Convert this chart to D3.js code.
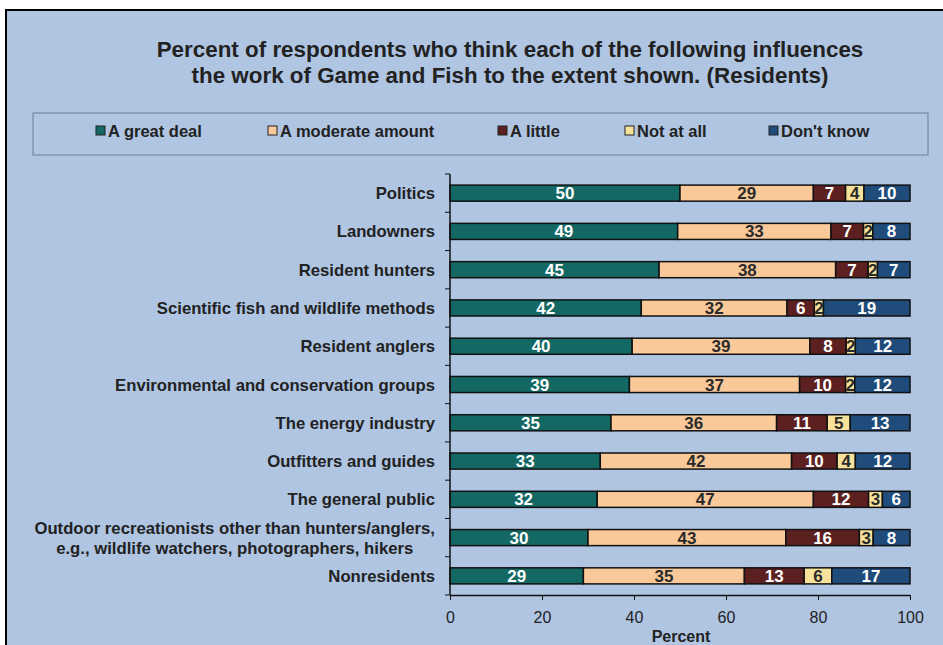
<!DOCTYPE html>
<html>
<head>
<meta charset="utf-8">
<script src="https://cdn.jsdelivr.net/npm/d3@7"></script>
<style>
body { margin: 0; background: #fff; }
svg text { font-family: Arial, "Liberation Sans", sans-serif; }
</style>
</head>
<body>
<div id="chart"></div>
<script>
var categories = [
    "Politics", "Landowners", "Resident hunters",
    "Scientific fish and wildlife methods", "Resident anglers",
    "Environmental and conservation groups", "The energy industry",
    "Outfitters and guides", "The general public",
    "Outdoor recreationists other than hunters/anglers,|e.g., wildlife watchers, photographers, hikers",
    "Nonresidents"
]
var seriesNames = ["A great deal", "A moderate amount", "A little", "Not at all", "Don't know"]
var greatDeal = [50, 49, 45, 42, 40, 39, 35, 33, 32, 30, 29]
var moderate = [29, 33, 38, 32, 39, 37, 36, 42, 47, 43, 35]
var little = [7, 7, 7, 6, 8, 10, 11, 10, 12, 16, 13]
var notAtAll = [4, 2, 2, 2, 2, 2, 5, 4, 3, 3, 6]
var dontKnow = [10, 8, 7, 19, 12, 12, 13, 12, 6, 8, 17]
var xTicks = [0, 20, 40, 60, 80, 100]

var colors = ["#146864", "#f9c99a", "#5c2021", "#f7e29b", "#204c7b"]
var labelColors = ["#fff", "#2a2a2a", "#fff", "#2a2a2a", "#fff"]

var width = 943, height = 645
var svg = d3.select("#chart").append("svg")
    .attr("width", width).attr("height", height)

// background panel
svg.append("rect")
    .attr("x", 6).attr("y", 10).attr("width", width).attr("height", height)
    .attr("fill", "#afc5e2").attr("stroke", "#000").attr("stroke-width", 2)

svg.append("text").attr("x", 510).attr("y", 57).attr("text-anchor", "middle")
    .attr("font-size", 22.4).attr("font-weight", "bold").attr("fill", "#222")
    .text("Percent of respondents who think each of the following influences")
svg.append("text").attr("x", 510).attr("y", 83).attr("text-anchor", "middle")
    .attr("font-size", 22.4).attr("font-weight", "bold").attr("fill", "#222")
    .text("the work of Game and Fish to the extent shown. (Residents)")

// legend
svg.append("rect").attr("x", 33).attr("y", 113).attr("width", 895).attr("height", 42)
    .attr("fill", "none").attr("stroke", "#6a7f99").attr("stroke-width", 1)
var legendX = [96, 268, 498, 625, 769]
var lg = svg.append("g").selectAll("g").data(seriesNames).join("g")
    .attr("transform", (d, i) => "translate(" + legendX[i] + ",131)")
lg.append("rect").attr("x", 0).attr("y", -5).attr("width", 9).attr("height", 9)
    .attr("fill", (d, i) => colors[i]).attr("stroke", "#222").attr("stroke-width", 1)
lg.append("text").attr("x", 12).attr("y", 5.5).attr("font-size", 16.5)
    .attr("font-weight", "bold").attr("fill", "#222").text(d => d)

// scales
var x = d3.scaleLinear().domain([0, 100]).range([450, 910])
var y = d3.scaleBand().domain(categories).range([174, 595]).paddingInner(0.58).paddingOuter(0.29)

var rows = categories.map((c, i) => {
    var vals = [greatDeal[i], moderate[i], little[i], notAtAll[i], dontKnow[i]]
    var total = d3.sum(vals)
    var acc = 0
    return vals.map((v, k) => {
        var seg = { cat: c, k: k, v: v, x0: acc / total * 100, x1: (acc + v) / total * 100 }
        acc += v
        return seg
    })
})
var segs = rows.flat()

svg.append("g").selectAll("rect").data(segs).join("rect")
    .attr("x", d => x(d.x0)).attr("y", d => y(d.cat))
    .attr("width", d => x(d.x1) - x(d.x0)).attr("height", y.bandwidth())
    .attr("fill", d => colors[d.k]).attr("stroke", "#111").attr("stroke-width", 1.5)

svg.append("g").selectAll("text").data(segs).join("text")
    .attr("x", d => x((d.x0 + d.x1) / 2)).attr("y", d => y(d.cat) + y.bandwidth() / 2 + 6)
    .attr("text-anchor", "middle").attr("font-size", 17).attr("font-weight", "bold")
    .attr("fill", d => labelColors[d.k]).text(d => d.v)

// y axis with ticks at band boundaries
var yAxis = svg.append("g")
yAxis.append("line").attr("x1", 450).attr("x2", 450).attr("y1", 174).attr("y2", 595)
    .attr("stroke", "#111").attr("stroke-width", 1.5)
var bounds = d3.range(categories.length + 1).map(i => 174 + i * (595 - 174) / categories.length)
yAxis.selectAll(".tk").data(bounds).join("line").attr("class", "tk")
    .attr("x1", 445).attr("x2", 450).attr("y1", d => d).attr("y2", d => d)
    .attr("stroke", "#111").attr("stroke-width", 1)

var catLabels = svg.append("g").selectAll("text").data(categories).join("text")
    .attr("font-size", 16.7).attr("font-weight", "bold").attr("fill", "#222")
    .attr("transform", d => "translate(0," + (y(d) + y.bandwidth() / 2 + 6) + ")")
catLabels.each(function(d) {
    var parts = d.split("|")
    var t = d3.select(this)
    if (parts.length === 1) { t.attr("x", 435).attr("text-anchor", "end").text(d); return }
    t.attr("text-anchor", "middle")
    var a = t.append("tspan").attr("y", -10).text(parts[0])
    var w = a.node().getComputedTextLength()
    a.attr("x", 435 - w / 2)
    t.append("tspan").attr("x", 435 - w / 2).attr("y", 10).text(parts[1])
})

// x axis
var xAxis = svg.append("g").attr("transform", "translate(0,595)")
    .call(d3.axisBottom(x).tickValues(xTicks).tickSize(5).tickSizeOuter(0))
xAxis.select(".domain").attr("stroke", "#111").attr("stroke-width", 1.5)
xAxis.selectAll(".tick line").attr("stroke", "#111")
xAxis.selectAll(".tick text").attr("font-size", 16).attr("fill", "#222")
    .attr("font-family", "Arial, 'Liberation Sans', sans-serif").attr("dy", "1.25em")

svg.append("text").attr("x", 681).attr("y", 642).attr("text-anchor", "middle")
    .attr("font-size", 16).attr("font-weight", "bold").attr("fill", "#222").text("Percent")
</script>
</body>
</html>
